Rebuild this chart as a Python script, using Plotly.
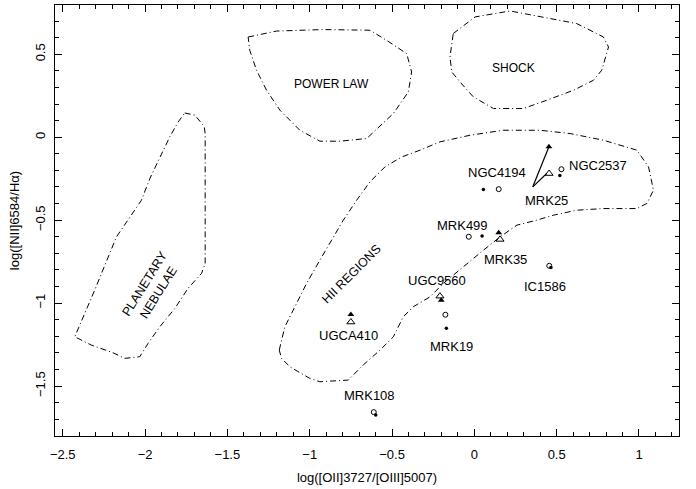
import plotly.graph_objects as go

# ---- data (log ratios) ----
# filled triangles: MRK25, MRK35, UGC9560, UGCA410
filled_tri_x = [0.453, 0.148, -0.201, -0.750]
filled_tri_y = [-0.058, -0.576, -0.982, -1.068]
# open triangles: MRK25, MRK35, UGC9560, UGCA410
open_tri_x = [0.454, 0.156, -0.209, -0.750]
open_tri_y = [-0.219, -0.616, -0.958, -1.114]
# filled dots: NGC2537, NGC4194, MRK499, IC1586, MRK19, MRK108
filled_dot_x = [0.519, 0.055, 0.047, 0.465, -0.170, -0.599]
filled_dot_y = [-0.231, -0.315, -0.596, -0.785, -1.152, -1.675]
# open circles: NGC2537, NGC4194, MRK499, IC1586, MRK19, MRK108
open_circ_x = [0.529, 0.148, -0.034, 0.455, -0.176, -0.611]
open_circ_y = [-0.193, -0.313, -0.600, -0.775, -1.070, -1.657]

# MRK25 pointer vertex
mrk25_vertex = (0.355, -0.299)

# object names and label anchors
obj_names = ["NGC4194", "NGC2537", "MRK25", "MRK499", "MRK35", "IC1586",
             "UGC9560", "UGCA410", "MRK19", "MRK108"]
obj_label_x = [0.140, 0.754, 0.436, -0.075, 0.187, 0.430, -0.225, -0.765, -0.136, -0.638]
obj_label_y = [-0.213, -0.169, -0.380, -0.530, -0.737, -0.898, -0.861, -1.193, -1.259, -1.558]

# region boundaries
pn_x = [-1.759, -1.698, -1.641, -1.635, -1.635, -1.657, -1.739, -1.819, -1.911, -1.982,
        -2.032, -2.123, -2.195, -2.326, -2.427, -2.306, -2.174, -2.083, -2.022, -1.971,
        -1.911, -1.850, -1.799]
pn_y = [0.146, 0.133, 0.066, 0.022, -0.761, -0.821, -0.911, -1.032, -1.143, -1.243,
        -1.323, -1.333, -1.299, -1.253, -1.203, -0.922, -0.601, -0.470, -0.380, -0.249,
        -0.128, 0.002, 0.092]

pl_x = [-1.374, -1.201, -0.918, -0.634, -0.533, -0.411, -0.381, -0.401, -0.492, -0.654,
        -0.816, -0.938, -1.060, -1.181, -1.262, -1.323, -1.364]
pl_y = [0.604, 0.640, 0.649, 0.645, 0.584, 0.504, 0.393, 0.273, 0.143, -0.008,
        -0.024, -0.024, 0.042, 0.163, 0.283, 0.404, 0.524]

sh_x = [-0.128, 0.004, 0.217, 0.319, 0.541, 0.622, 0.683, 0.784, 0.815, 0.774,
        0.723, 0.602, 0.440, 0.298, 0.116, -0.006, -0.087, -0.137, -0.148]
sh_y = [0.625, 0.725, 0.761, 0.741, 0.701, 0.685, 0.655, 0.604, 0.544, 0.404,
        0.343, 0.283, 0.223, 0.173, 0.173, 0.243, 0.333, 0.393, 0.484]

hii_x = [-1.185, -1.151, -1.090, -1.019, -0.938, -0.796, -0.715, -0.634, -0.543, -0.441,
         -0.330, -0.209, -0.026, 0.176, 0.399, 0.582, 0.784, 0.987, 1.058, 1.088,
         1.048, 0.987, 0.784, 0.622, 0.480, 0.379, 0.258, 0.156, 0.055, -0.067,
         -0.188, -0.269, -0.371, -0.432, -0.492, -0.573, -0.675, -0.766, -0.938, -0.999,
         -1.120, -1.171]
hii_y = [-1.283, -1.143, -1.022, -0.881, -0.741, -0.500, -0.380, -0.269, -0.179, -0.119,
         -0.078, -0.028, 0.012, 0.042, 0.042, 0.022, -0.018, -0.078, -0.179, -0.319,
         -0.399, -0.430, -0.430, -0.440, -0.470, -0.500, -0.530, -0.601, -0.681, -0.781,
         -0.881, -0.962, -1.022, -1.083, -1.203, -1.283, -1.373, -1.464, -1.474, -1.454,
         -1.384, -1.333]

region_names = ["POWER LAW", "SHOCK", "HII REGIONS", "PLANETARY<br>NEBULAE"]
region_label_x = [-0.867, 0.237, -0.745, -1.960]
region_label_y = [0.319, 0.420, -0.825, -0.910]
region_label_angle = [0, 0, -45, -58]
region_label_size = [12, 12, 12.5, 12.5]

FONT = "Liberation Sans, Arial, Helvetica, sans-serif"
DASH = "6px,3px,1px,3px"

fig = go.Figure()

for bx, by in [(pn_x, pn_y), (pl_x, pl_y), (sh_x, sh_y), (hii_x, hii_y)]:
    fig.add_trace(go.Scatter(x=bx + [bx[0]], y=by + [by[0]], mode="lines",
                             line=dict(color="black", width=1, dash=DASH),
                             hoverinfo="skip", showlegend=False))

# MRK25 pointer lines
fig.add_trace(go.Scatter(
    x=[mrk25_vertex[0], filled_tri_x[0], None, mrk25_vertex[0], open_tri_x[0] - 0.015],
    y=[mrk25_vertex[1], filled_tri_y[0], None, mrk25_vertex[1], open_tri_y[0]],
    mode="lines", line=dict(color="black", width=1.2), showlegend=False, hoverinfo="skip"))

fig.add_trace(go.Scatter(x=filled_tri_x, y=filled_tri_y, mode="markers", name="filled triangles",
                         marker=dict(symbol="triangle-up", size=6, color="black"), showlegend=False))
fig.add_trace(go.Scatter(x=open_tri_x, y=open_tri_y, mode="markers", name="open triangles",
                         marker=dict(symbol="triangle-up-open", size=7, color="black",
                                     line=dict(width=1)), showlegend=False))
fig.add_trace(go.Scatter(x=open_circ_x, y=open_circ_y, mode="markers", name="open circles",
                         marker=dict(symbol="circle-open", size=5, color="black",
                                     line=dict(width=1)), showlegend=False))
fig.add_trace(go.Scatter(x=filled_dot_x, y=filled_dot_y, mode="markers", name="filled dots",
                         marker=dict(symbol="circle", size=3.5, color="black"), showlegend=False))

annotations = []
for t, x, y in zip(obj_names, obj_label_x, obj_label_y):
    annotations.append(dict(x=x, y=y, text=t, showarrow=False, xref="x", yref="y",
                            font=dict(family=FONT, size=13, color="black")))
for t, x, y, a, s in zip(region_names, region_label_x, region_label_y,
                         region_label_angle, region_label_size):
    annotations.append(dict(x=x, y=y, text=t, showarrow=False, xref="x", yref="y",
                            textangle=a,
                            font=dict(family=FONT, size=s, color="black")))

axis_common = dict(showgrid=False, zeroline=False, showline=True, linecolor="black",
                   linewidth=1, mirror="ticks", ticks="inside", ticklen=7, tickwidth=1,
                   tickcolor="black", tickfont=dict(family=FONT, size=13, color="black"),
                   minor=dict(ticks="inside", ticklen=4, dtick=0.1, tickcolor="black",
                              tickwidth=1, showgrid=False))

fig.update_layout(
    width=696, height=489,
    margin=dict(l=55, r=17, t=5, b=53),
    plot_bgcolor="white", paper_bgcolor="white",
    font=dict(family=FONT, size=13, color="black"),
    annotations=annotations,
    xaxis=dict(range=[-2.547, 1.243], dtick=0.5, tick0=0,
               title=dict(text="log([OII]3727/[OIII]5007)", standoff=12,
                          font=dict(family=FONT, size=13)),
               ticklabelstandoff=6, **axis_common),
    yaxis=dict(range=[-1.801, 0.797], dtick=0.5, tick0=0, tickangle=-90,
               title=dict(text="log([NII]6584/Hα)", standoff=10,
                          font=dict(family=FONT, size=13)),
               ticklabelstandoff=4, **axis_common),
)

fig.write_html("out.html", config={"displayModeBar": False},
               post_script="document.body.style.margin='0';document.body.style.overflow='hidden';")
